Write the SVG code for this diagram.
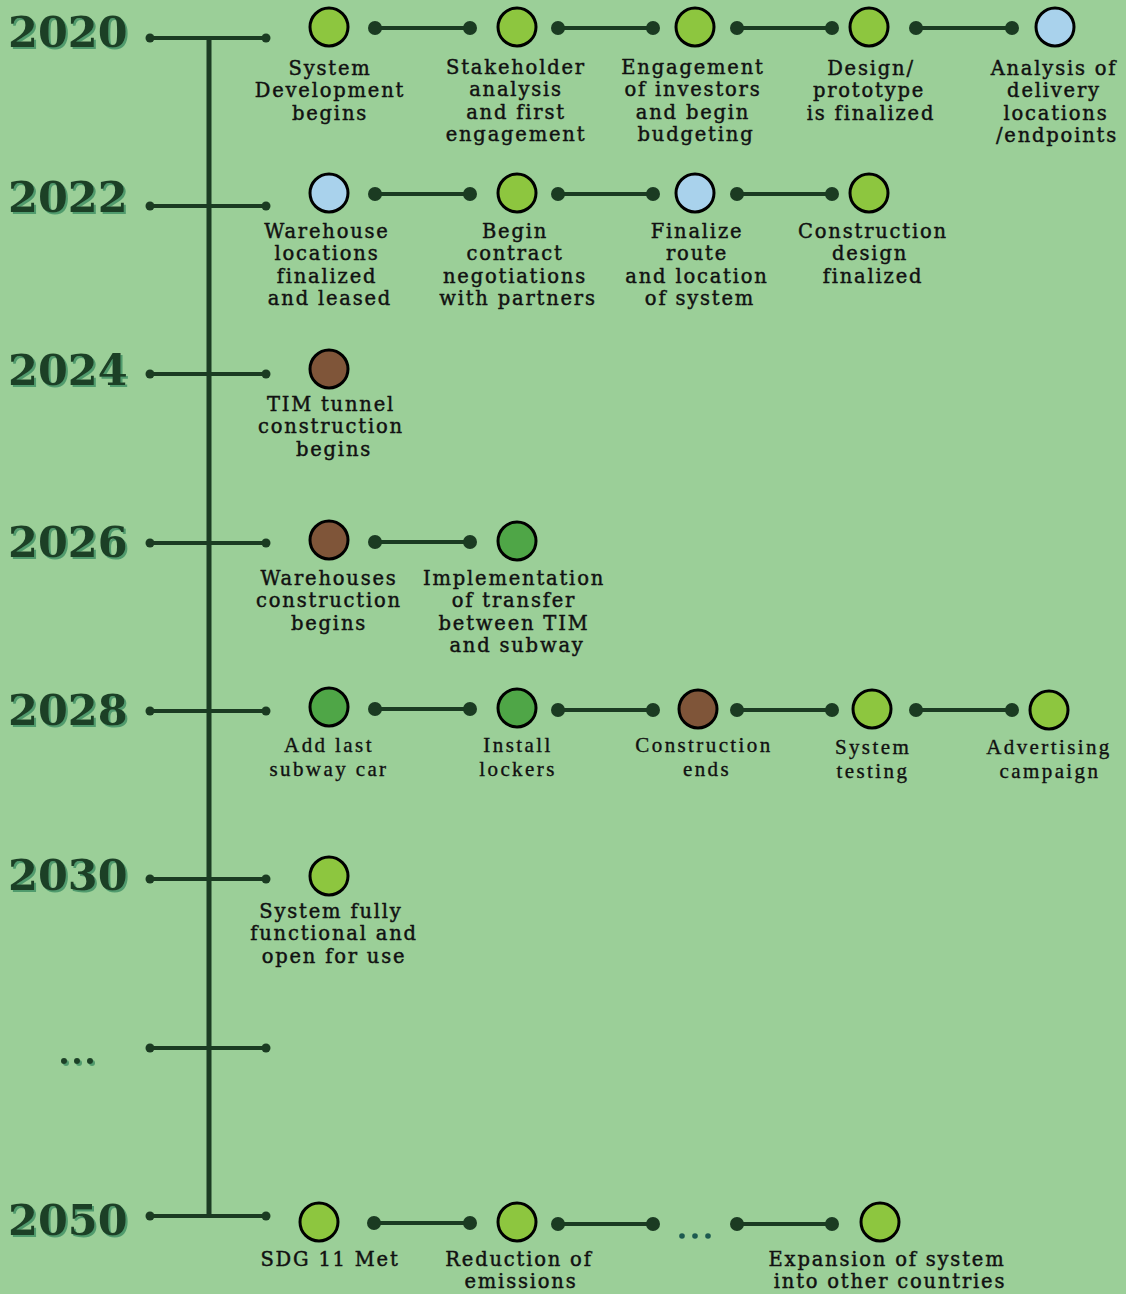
<svg xmlns="http://www.w3.org/2000/svg" width="1126" height="1294" viewBox="0 0 1126 1294">
<defs>
<filter id="sh" x="-10%" y="-10%" width="130%" height="140%">
<feDropShadow dx="2" dy="2" stdDeviation="0.6" flood-color="#4a9468" flood-opacity="0.9"/>
</filter>
<style>
.yr{font-family:"DejaVu Serif","Liberation Serif",serif;font-weight:bold;font-size:43px;fill:#1e4128;filter:url(#sh)}
.lb{font-family:"DejaVu Serif","Liberation Serif",serif;font-size:19.5px;letter-spacing:1.8px;fill:#111;stroke:#111;stroke-width:0.45;text-anchor:middle}
.lc{font-family:"Liberation Serif","DejaVu Serif",serif;font-size:21px;letter-spacing:2.4px;fill:#111;stroke:#111;stroke-width:0.35;text-anchor:middle}
.ax{stroke:#1b3b22;stroke-width:4;fill:none}
.ad{fill:#1b3b22}
.cn{stroke:#1b3b22;stroke-width:4}
.nd{stroke:#000;stroke-width:3}
.lime{fill:#8dc63f}
.blue{fill:#a9d2ec}
.brown{fill:#7f5539}
.mg{fill:#4fa647}
</style>
</defs>
<rect width="1126" height="1294" fill="#9bcf98"/>

<g id="axis">
<line x1="209" y1="38" x2="209" y2="1217" stroke="#1b3b22" stroke-width="5"/>
<g class="ax">
<line x1="150" y1="38" x2="266" y2="38"/>
<line x1="150" y1="206" x2="266" y2="206"/>
<line x1="150" y1="374" x2="266" y2="374"/>
<line x1="150" y1="543" x2="266" y2="543"/>
<line x1="150" y1="711" x2="266" y2="711"/>
<line x1="150" y1="879" x2="266" y2="879"/>
<line x1="150" y1="1048" x2="266" y2="1048"/>
<line x1="150" y1="1216" x2="266" y2="1216"/>
</g>
<g class="ad">
<circle cx="150" cy="38" r="4.5"/><circle cx="266" cy="38" r="4.5"/>
<circle cx="150" cy="206" r="4.5"/><circle cx="266" cy="206" r="4.5"/>
<circle cx="150" cy="374" r="4.5"/><circle cx="266" cy="374" r="4.5"/>
<circle cx="150" cy="543" r="4.5"/><circle cx="266" cy="543" r="4.5"/>
<circle cx="150" cy="711" r="4.5"/><circle cx="266" cy="711" r="4.5"/>
<circle cx="150" cy="879" r="4.5"/><circle cx="266" cy="879" r="4.5"/>
<circle cx="150" cy="1048" r="4.5"/><circle cx="266" cy="1048" r="4.5"/>
<circle cx="150" cy="1216" r="4.5"/><circle cx="266" cy="1216" r="4.5"/>
</g>
</g>

<g id="years">
<text class="yr" x="8" y="47">2020</text>
<text class="yr" x="8" y="212">2022</text>
<text class="yr" x="8" y="385">2024</text>
<text class="yr" x="8" y="557">2026</text>
<text class="yr" x="8" y="725">2028</text>
<text class="yr" x="8" y="890">2030</text>
<g filter="url(#sh)" fill="#1e4128"><circle cx="64" cy="1061" r="3"/><circle cx="77" cy="1061" r="3"/><circle cx="90" cy="1061" r="3"/></g>
<text class="yr" x="8" y="1235">2050</text>
</g>

<g id="connectors">
<g class="cn">
<line x1="375" y1="28" x2="470" y2="28"/>
<line x1="558" y1="28" x2="653" y2="28"/>
<line x1="737" y1="28" x2="832" y2="28"/>
<line x1="916" y1="28" x2="1012" y2="28"/>
<line x1="375" y1="194" x2="470" y2="194"/>
<line x1="558" y1="194" x2="653" y2="194"/>
<line x1="737" y1="194" x2="832" y2="194"/>
<line x1="375" y1="542" x2="470" y2="542"/>
<line x1="375" y1="709" x2="470" y2="709"/>
<line x1="558" y1="710" x2="653" y2="710"/>
<line x1="737" y1="710" x2="832" y2="710"/>
<line x1="916" y1="710" x2="1012" y2="710"/>
<line x1="374" y1="1223" x2="470" y2="1223"/>
<line x1="558" y1="1224" x2="653" y2="1224"/>
<line x1="737" y1="1224" x2="832" y2="1224"/>
</g>
<g class="ad">
<circle cx="375" cy="28" r="7"/><circle cx="470" cy="28" r="7"/>
<circle cx="558" cy="28" r="7"/><circle cx="653" cy="28" r="7"/>
<circle cx="737" cy="28" r="7"/><circle cx="832" cy="28" r="7"/>
<circle cx="916" cy="28" r="7"/><circle cx="1012" cy="28" r="7"/>
<circle cx="375" cy="194" r="7"/><circle cx="470" cy="194" r="7"/>
<circle cx="558" cy="194" r="7"/><circle cx="653" cy="194" r="7"/>
<circle cx="737" cy="194" r="7"/><circle cx="832" cy="194" r="7"/>
<circle cx="375" cy="542" r="7"/><circle cx="470" cy="542" r="7"/>
<circle cx="375" cy="709" r="7"/><circle cx="470" cy="709" r="7"/>
<circle cx="558" cy="710" r="7"/><circle cx="653" cy="710" r="7"/>
<circle cx="737" cy="710" r="7"/><circle cx="832" cy="710" r="7"/>
<circle cx="916" cy="710" r="7"/><circle cx="1012" cy="710" r="7"/>
<circle cx="374" cy="1223" r="7"/><circle cx="470" cy="1223" r="7"/>
<circle cx="558" cy="1224" r="7"/><circle cx="653" cy="1224" r="7"/>
<circle cx="737" cy="1224" r="7"/><circle cx="832" cy="1224" r="7"/>
</g>
<g fill="#1d5a50"><circle cx="682" cy="1236" r="2.8"/><circle cx="695" cy="1236" r="2.8"/><circle cx="708" cy="1236" r="2.8"/></g>
</g>

<g id="n2020a"><circle class="nd lime" cx="329" cy="27" r="19"/><text class="lb" y="75"><tspan x="330">System</tspan><tspan x="330" dy="22.3">Development</tspan><tspan x="330" dy="22.3">begins</tspan></text></g>
<g id="n2020b"><circle class="nd lime" cx="517" cy="27" r="19"/><text class="lb" y="74"><tspan x="516">Stakeholder</tspan><tspan x="516" dy="22.3">analysis</tspan><tspan x="516" dy="22.3">and first</tspan><tspan x="516" dy="22.3">engagement</tspan></text></g>
<g id="n2020c"><circle class="nd lime" cx="695" cy="27" r="19"/><text class="lb" y="74"><tspan x="693">Engagement</tspan><tspan x="693" dy="22.3">of investors</tspan><tspan x="693" dy="22.3">and begin</tspan><tspan x="696" dy="22.3">budgeting</tspan></text></g>
<g id="n2020d"><circle class="nd lime" cx="869" cy="27" r="19"/><text class="lb" y="75"><tspan x="871">Design/</tspan><tspan x="869" dy="22.3">prototype</tspan><tspan x="871" dy="22.3">is finalized</tspan></text></g>
<g id="n2020e"><circle class="nd blue" cx="1055" cy="27" r="19"/><text class="lb" y="75"><tspan x="1054">Analysis of</tspan><tspan x="1054" dy="22.3">delivery</tspan><tspan x="1056" dy="22.3">locations</tspan><tspan x="1057" dy="22.3">/endpoints</tspan></text></g>

<g id="n2022a"><circle class="nd blue" cx="329" cy="193" r="19"/><text class="lb" y="238"><tspan x="327">Warehouse</tspan><tspan x="327" dy="22.3">locations</tspan><tspan x="327" dy="22.3">finalized</tspan><tspan x="330" dy="22.3">and leased</tspan></text></g>
<g id="n2022b"><circle class="nd lime" cx="517" cy="193" r="19"/><text class="lb" y="238"><tspan x="515">Begin</tspan><tspan x="515" dy="22.3">contract</tspan><tspan x="515" dy="22.3">negotiations</tspan><tspan x="518" dy="22.3">with partners</tspan></text></g>
<g id="n2022c"><circle class="nd blue" cx="695" cy="193" r="19"/><text class="lb" y="238"><tspan x="697">Finalize</tspan><tspan x="697" dy="22.3">route</tspan><tspan x="697" dy="22.3">and location</tspan><tspan x="700" dy="22.3">of system</tspan></text></g>
<g id="n2022d"><circle class="nd lime" cx="869" cy="193" r="19"/><text class="lb" y="238"><tspan x="873">Construction</tspan><tspan x="870" dy="22.3">design</tspan><tspan x="873" dy="22.3">finalized</tspan></text></g>

<g id="n2024a"><circle class="nd brown" cx="329" cy="369" r="19"/><text class="lb" y="411"><tspan x="331">TIM tunnel</tspan><tspan x="331" dy="22.3">construction</tspan><tspan x="334" dy="22.3">begins</tspan></text></g>

<g id="n2026a"><circle class="nd brown" cx="329" cy="540" r="19"/><text class="lb" y="585"><tspan x="329">Warehouses</tspan><tspan x="329" dy="22.3">construction</tspan><tspan x="329" dy="22.3">begins</tspan></text></g>
<g id="n2026b"><circle class="nd mg" cx="517" cy="541" r="19"/><text class="lb" y="585"><tspan x="514">Implementation</tspan><tspan x="514" dy="22.3">of transfer</tspan><tspan x="514" dy="22.3">between TIM</tspan><tspan x="517" dy="22.3">and subway</tspan></text></g>

<g id="n2028a"><circle class="nd mg" cx="329" cy="707" r="19"/><text class="lc" y="752"><tspan x="329">Add last</tspan><tspan x="329" dy="23.5">subway car</tspan></text></g>
<g id="n2028b"><circle class="nd mg" cx="517" cy="708" r="19"/><text class="lc" y="752"><tspan x="518">Install</tspan><tspan x="518" dy="23.5">lockers</tspan></text></g>
<g id="n2028c"><circle class="nd brown" cx="698" cy="709" r="19"/><text class="lc" y="752"><tspan x="704">Construction</tspan><tspan x="707" dy="23.5">ends</tspan></text></g>
<g id="n2028d"><circle class="nd lime" cx="872" cy="709" r="19"/><text class="lc" y="754"><tspan x="873">System</tspan><tspan x="873" dy="23.5">testing</tspan></text></g>
<g id="n2028e"><circle class="nd lime" cx="1049" cy="710" r="19"/><text class="lc" y="754"><tspan x="1049">Advertising</tspan><tspan x="1050" dy="23.5">campaign</tspan></text></g>

<g id="n2030a"><circle class="nd lime" cx="329" cy="876" r="19"/><text class="lb" y="918"><tspan x="331">System fully</tspan><tspan x="334" dy="22.3">functional and</tspan><tspan x="334" dy="22.3">open for use</tspan></text></g>

<g id="n2050a"><circle class="nd lime" cx="319" cy="1222" r="19"/><text class="lb" y="1266"><tspan x="330">SDG 11 Met</tspan></text></g>
<g id="n2050b"><circle class="nd lime" cx="517" cy="1222" r="19"/><text class="lb" y="1266"><tspan x="519">Reduction of</tspan><tspan x="521" dy="22.3">emissions</tspan></text></g>
<g id="n2050c"><circle class="nd lime" cx="880" cy="1222" r="19"/><text class="lb" y="1266"><tspan x="887">Expansion of system</tspan><tspan x="890" dy="22.3">into other countries</tspan></text></g>
</svg>
